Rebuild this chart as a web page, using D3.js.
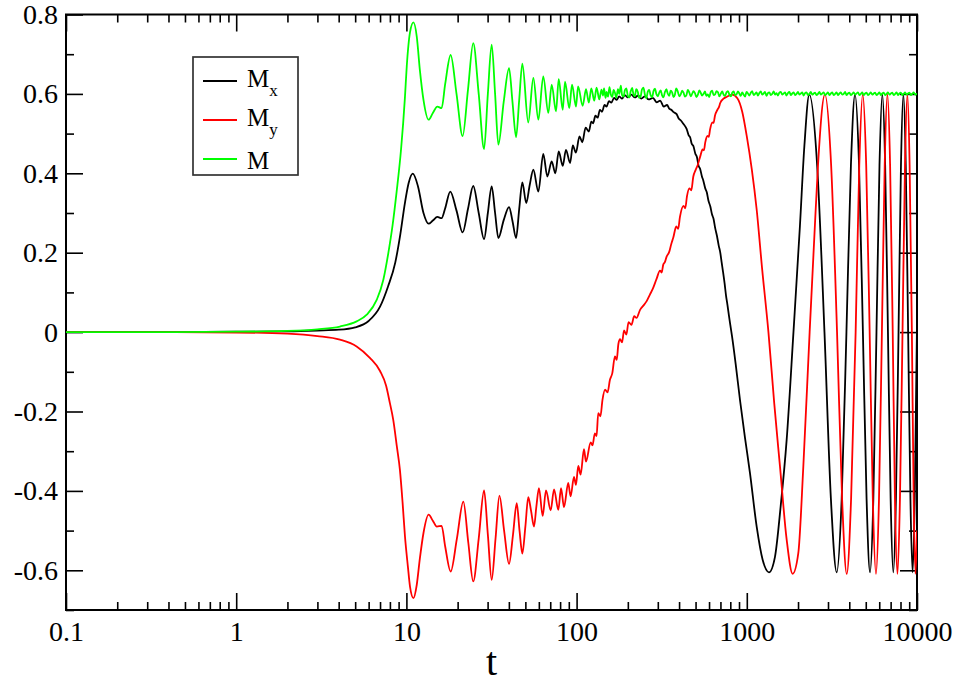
<!DOCTYPE html>
<html>
<head>
<meta charset="utf-8">
<script src="https://cdn.jsdelivr.net/npm/d3@7"></script>
<style>
    body { margin: 0; background: #fff; }
</style>
</head>
<body>
<div id="chart"></div>
<script>
// tick values
var xTicks = [0.1, 1, 10, 100, 1000, 10000];
var yTicks = [-0.6, -0.4, -0.2, 0, 0.2, 0.4, 0.6, 0.8];
var yMinorTicks = [-0.7, -0.5, -0.3, -0.1, 0.1, 0.3, 0.5, 0.7];

// legend: [symbol, subscript]
var legendLabels = [["M", "x"], ["M", "y"], ["M", ""]];
var seriesColors = ["#000000", "#ff0000", "#00ff00"];

var serif = "'Liberation Serif', Tinos, 'Times New Roman', Times, 'DejaVu Serif', serif";

// M_x (t, value)
var mxData = [
    [0.1,0],[0.3,0],[1,0.001],[2,0.002],[3,0.004],[4,0.006],[5,0.012],[6,0.028],[7,0.064],
    [7.8,0.115],[8.6,0.175],[9.2,0.245],[9.8,0.325],[10.3,0.375],[10.9,0.399],[11.7,0.367],
    [12.6,0.300],[13.5,0.273],[14.3,0.281],[15.2,0.290],[16.1,0.287],[16.9,0.312],[18.1,0.354],
    [19.7,0.306],[21.4,0.251],[23.0,0.310],[24.7,0.368],[26.6,0.300],[28.6,0.234],[30.1,0.300],
    [31.7,0.367],[33.2,0.300],[34.7,0.237],[37.3,0.282],[40.1,0.315],[42.0,0.280],[44.1,0.237],
    [46.0,0.310],[48.0,0.377],[50.6,0.325],[53.0,0.370],[55.7,0.409],[59.6,0.354],[63.7,0.449],
    [67.3,0.392],[71.4,0.430],[75.0,0.400],[78.5,0.455],[82.9,0.419],[86.6,0.459],[91.6,0.426],
    [95,0.470],[99,0.452],[104,0.493],[108,0.478],[113,0.515],[118,0.505],[122,0.530],[125,0.526],
    [129,0.545],[133,0.540],[137,0.560],[141,0.555],[146,0.572],[150,0.568],[155,0.582],[160,0.578],
    [166,0.590],[172,0.585],[178,0.594],[185,0.588],[192,0.597],[200,0.591],[210,0.598],[220,0.591],
    [230,0.596],[240,0.588],[252,0.594],[265,0.586],[281,0.590],[295,0.579],[310,0.583],[325,0.568],
    [340,0.572],[350,0.563],[360,0.560],[372,0.554],[387,0.549],[398,0.538],[410,0.533],[425,0.524],
    [443,0.512],[455,0.496],[465,0.490],[475,0.474],[485,0.469],[498,0.450],[510,0.440],[520,0.420],
    [532,0.411],[545,0.392],[555,0.382],[570,0.362],[582,0.352],[596,0.330],[610,0.317],[625,0.296],
    [638,0.285],[652,0.262],[668,0.242],[684,0.218],[698,0.201],[712,0.175],[725,0.152],[740,0.124],
    [755,0.092],[770,0.068],[785,0.042],[800,0.018],[819,-0.011],[860,-0.080],[912,-0.171],[975,-0.265],
    [1044,-0.355],[1143,-0.490],[1240,-0.574],[1350,-0.605],[1464,-0.566],[1581,-0.439],[1715,-0.271],
    [1880,0.000],[2051,0.266],[2180,0.470],[2328,0.598],[2590,0.420],[2860,0.000],[3120,-0.420],
    [3375,-0.605],[3610,-0.420],[3850,0.000],[4090,0.420],[4323,0.598],[4565,0.420],[4810,0.000],
    [5055,-0.420],[5297,-0.605],[5540,-0.420],[5780,0.000],[6020,0.420],[6255,0.598],[6500,0.420],
    [6750,0.000],[7000,-0.420],[7256,-0.605],[7520,-0.420],[7790,0.000],[8050,0.420],[8319,0.598],
    [8590,0.420],[8870,0.000],[9150,-0.420],[9420,-0.605],[9700,-0.420],[10000,0.020]
];

// M_y (t, value)
var myData = [
    [0.1,0],[0.3,0],[1,-0.001],[2,-0.004],[3,-0.010],[4.07,-0.019],[5.1,-0.036],[6.1,-0.065],
    [7.0,-0.098],[7.6,-0.135],[8.0,-0.179],[8.37,-0.221],[8.8,-0.290],[9.16,-0.347],[9.5,-0.430],
    [9.81,-0.515],[10.2,-0.590],[10.5,-0.641],[11.0,-0.670],[11.5,-0.637],[12.0,-0.570],[12.6,-0.506],
    [13.5,-0.460],[14.3,-0.475],[15.1,-0.490],[16.1,-0.488],[16.9,-0.540],[18.2,-0.603],[19.8,-0.520],
    [21.6,-0.427],[23.1,-0.530],[24.7,-0.628],[26.6,-0.520],[28.6,-0.399],[30.1,-0.510],[31.7,-0.624],
    [33.4,-0.520],[35.2,-0.412],[37.5,-0.500],[40.1,-0.584],[42.3,-0.510],[44.5,-0.431],[46.2,-0.500],
    [48.0,-0.558],[50.0,-0.490],[52.0,-0.416],[54,-0.450],[56.2,-0.490],[58,-0.440],[60.1,-0.393],
    [63.2,-0.463],[66.1,-0.399],[70.4,-0.449],[73.7,-0.396],[78.1,-0.448],[81.0,-0.393],[84.3,-0.441],
    [89.3,-0.380],[92.2,-0.414],[96.5,-0.365],[99.1,-0.385],[102.3,-0.337],[105.6,-0.359],[110.5,-0.295],
    [113.5,-0.326],[121,-0.278],[124,-0.285],[128,-0.255],[131,-0.262],[134,-0.204],[138,-0.212],
    [142,-0.170],[147,-0.145],[152,-0.152],[157,-0.120],[162,-0.104],[168,-0.061],[172,-0.070],
    [176,-0.030],[180,-0.018],[185,-0.026],[190,0.004],[196,-0.006],[202,0.025],[210,0.018],
    [218,0.040],[225,0.036],[236,0.056],[246,0.066],[258,0.078],[270,0.095],[281,0.110],[295,0.134],
    [309,0.155],[316,0.150],[323,0.170],[330,0.176],[338,0.190],[350,0.202],[360,0.222],[370,0.238],
    [385,0.266],[395,0.260],[405,0.291],[425,0.318],[435,0.312],[445,0.342],[460,0.362],[472,0.357],
    [485,0.392],[500,0.408],[515,0.421],[532,0.442],[550,0.460],[560,0.458],[570,0.478],[588,0.494],
    [598,0.492],[608,0.510],[628,0.528],[638,0.527],[650,0.545],[672,0.560],[685,0.566],[698,0.577],
    [730,0.588],[764,0.593],[819,0.598],[880,0.589],[940,0.555],
    [1000,0.493],[1070,0.410],[1142,0.310],[1230,0.160],[1340,0.000],[1450,-0.180],[1567,-0.339],
    [1715,-0.523],[1859,-0.609],[2007,-0.557],[2148,-0.339],[2340,0.000],[2500,0.250],[2620,0.420],
    [2877,0.598],[3130,0.420],[3390,0.000],[3630,-0.420],[3865,-0.609],[4100,-0.420],[4360,0.000],
    [4580,0.420],[4797,0.598],[5030,0.420],[5270,0.000],[5500,-0.420],[5741,-0.609],[5980,-0.420],
    [6220,0.000],[6460,0.420],[6698,0.598],[6950,0.420],[7200,0.000],[7420,-0.420],[7680,-0.609],
    [7940,-0.420],[8220,0.000],[8500,0.420],[8779,0.598],[9050,0.420],[9330,0.000],[9560,-0.420],
    [9800,-0.609],[10000,-0.500]
];

// M (t, value)
var mData = [
    [0.1,0],[0.3,0],[1,0.001],[2,0.003],[3,0.007],[4.07,0.014],[5.1,0.027],[5.85,0.044],[6.69,0.081],
    [7.32,0.132],[7.83,0.199],[8.3,0.270],[8.77,0.355],[9.3,0.460],[9.8,0.590],[10.05,0.670],
    [10.5,0.755],[11.0,0.780],[11.5,0.745],[12.0,0.660],[12.6,0.585],[13.5,0.535],[14.3,0.552],
    [15.2,0.568],[16.1,0.564],[16.9,0.625],[18.2,0.698],[19.7,0.600],[21.4,0.494],[23.0,0.610],
    [24.7,0.728],[26.6,0.600],[28.6,0.461],[30.1,0.600],[31.7,0.724],[33.2,0.600],[34.7,0.472],
    [37.3,0.580],[40.1,0.665],[42.0,0.580],[44.1,0.491],[46.0,0.585],[48.0,0.676],[52.0,0.528],
    [55.7,0.640],[59.6,0.535],[63.7,0.644],[68.2,0.552],[71.4,0.623],[75.7,0.556],[78.5,0.637],
    [82.9,0.560],[85.5,0.631],[90.6,0.564],[94.0,0.623],[99.2,0.568],[102,0.619],[108.6,0.570],
    [113.6,0.612],[118,0.578],[122,0.614],[127,0.583],[131,0.616],[136,0.586],[140,0.611],
    [143,0.596],[145,0.614],[148,0.590],[150,0.605],[153,0.593],[156,0.617],[159,0.598],[162,0.592],
    [165,0.610],[168,0.603],[171,0.590],[175,0.612],[178,0.600],[182,0.621],[185,0.597],[189,0.593],
    [192,0.609],[196,0.614],[200,0.595],[204,0.591],[208,0.607],[212,0.615],[216,0.598],[220,0.594],
    [224,0.612],[229,0.605],[233,0.590],[238,0.594],[242,0.611],[247,0.616],[252,0.598],[257,0.589],
    [262,0.606],[267,0.610],[272,0.597],[278,0.592],[283,0.607],[289,0.613],[294,0.600],[300,0.594],
    [306,0.603],[312,0.609],[318,0.596],[324,0.591],[330,0.604],[337,0.612],[343,0.601],[350,0.595],
    [357,0.608],[364,0.604],[371,0.592],[378,0.598],[385,0.614],[393,0.606],[401,0.594],[409,0.599],
    [417,0.608],[425,0.603],[433,0.593],[442,0.597],[450,0.610],[459,0.604],[468,0.594],[477,0.600],
    [486,0.607],[496,0.602],[506,0.592],[516,0.598],[526,0.609],[536,0.603],[546,0.596],[557,0.600],
    [568,0.606],[579,0.595],[590,0.599],[602,0.592],[614,0.605],[626,0.608],[638,0.597],[651,0.599],
    [664,0.607],[677,0.604],[690,0.594],[703,0.600],[717,0.606],[731,0.598],[745,0.595],[760,0.604],
    [775,0.607],[790,0.598],[806,0.594],[821,0.603],[837,0.606],[853,0.597],[870,0.599],[887,0.606],
    [904,0.601],[922,0.595],[940,0.604],[958,0.598],[977,0.593],[996,0.605],[1016,0.601],[1035,0.596],
    [1056,0.603],[1076,0.607],[1097,0.597],[1118,0.600],[1140,0.604],[1162,0.596],[1185,0.602],
    [1208,0.606],[1232,0.598],[1256,0.601],[1280,0.605],[1305,0.595],[1331,0.602],[1357,0.604],
    [1383,0.597],[1410,0.600],[1438,0.606],[1466,0.598],[1495,0.602],[1524,0.596],[1554,0.603],
    [1584,0.605],[1615,0.598],[1646,0.601],[1678,0.604],[1711,0.596],[1745,0.602],[1779,0.605],
    [1814,0.597],[1849,0.601],[1885,0.604],[1922,0.597],[1960,0.600],[1998,0.605],[2037,0.598],
    [2076,0.601],[2117,0.604],[2158,0.596],[2200,0.602],[2243,0.604],[2287,0.597],[2332,0.600],
    [2377,0.605],[2424,0.598],[2471,0.601],[2519,0.603],[2568,0.597],[2619,0.600],[2670,0.605],
    [2722,0.598],[2775,0.601],[2829,0.604],[2884,0.597],[2941,0.600],[2998,0.604],[3057,0.597],
    [3116,0.601],[3177,0.604],[3239,0.597],[3302,0.600],[3367,0.604],[3433,0.597],[3500,0.601],
    [3568,0.604],[3638,0.598],[3709,0.600],[3781,0.605],[3855,0.597],[3930,0.601],[4007,0.603],
    [4085,0.597],[4165,0.600],[4246,0.604],[4329,0.598],[4414,0.601],[4500,0.604],[4588,0.597],
    [4677,0.600],[4769,0.604],[4862,0.597],[4957,0.601],[5053,0.603],[5152,0.597],[5253,0.600],
    [5355,0.604],[5460,0.598],[5566,0.601],[5675,0.603],[5786,0.597],[5899,0.600],[6014,0.604],
    [6131,0.597],[6251,0.601],[6373,0.603],[6498,0.597],[6624,0.600],[6754,0.604],[6886,0.598],
    [7020,0.601],[7157,0.603],[7297,0.597],[7439,0.600],[7585,0.604],[7733,0.597],[7884,0.601],
    [8038,0.603],[8195,0.597],[8355,0.600],[8518,0.604],[8684,0.598],[8854,0.601],[9027,0.603],
    [9203,0.597],[9383,0.600],[9566,0.604],[9753,0.598],[10000,0.601]
];

var margin = {top: 14.5, right: 46, bottom: 74, left: 66},
        width = 963 - margin.left - margin.right,
        height = 684 - margin.top - margin.bottom;

var x = d3.scaleLog()
        .domain([0.1, 10000])
        .range([0, width]);

var y = d3.scaleLinear()
        .domain([-0.7, 0.8])
        .range([height, 0]);

var xMinor = x.ticks().filter(function(d) { return xTicks.indexOf(d) < 0; });

var fmtX = d3.format("~g");
var fmtY = function(d) { return String(+d.toFixed(1)); };

var svg = d3.select("#chart").append("svg")
        .attr("width", 963)
        .attr("height", 684)
        .append("g")
        .attr("transform", "translate(" + margin.left + "," + margin.top + ")");

svg.append("clipPath")
        .attr("id", "plot-clip")
        .append("rect")
        .attr("width", width)
        .attr("height", height);

// axes: major ticks 17px inward, minor 8px
function addAxis(axis, transform, labels) {
    var g = svg.append("g")
            .attr("class", "axis")
            .attr("transform", transform)
            .call(axis);
    g.select(".domain").remove();
    g.selectAll(".tick line").attr("stroke", "#000").attr("stroke-width", 1.6);
    if (labels) {
        g.selectAll(".tick text")
                .style("font-family", serif)
                .style("font-size", "28px")
                .attr("fill", "#000");
    }
    return g;
}

addAxis(d3.axisBottom(x).tickValues(xTicks).tickFormat(fmtX)
        .tickSizeInner(-17).tickSizeOuter(0).tickPadding(11), "translate(0," + height + ")", true);
addAxis(d3.axisBottom(x).tickValues(xMinor).tickFormat("")
        .tickSizeInner(-8).tickSizeOuter(0), "translate(0," + height + ")");
addAxis(d3.axisTop(x).tickValues(xTicks).tickFormat("")
        .tickSizeInner(-17).tickSizeOuter(0), "translate(0,0)");
addAxis(d3.axisTop(x).tickValues(xMinor).tickFormat("")
        .tickSizeInner(-8).tickSizeOuter(0), "translate(0,0)");

addAxis(d3.axisLeft(y).tickValues(yTicks).tickFormat(fmtY)
        .tickSizeInner(-17).tickSizeOuter(0).tickPadding(8), "translate(0,0)", true);
addAxis(d3.axisLeft(y).tickValues(yMinorTicks).tickFormat("")
        .tickSizeInner(-8).tickSizeOuter(0), "translate(0,0)");
addAxis(d3.axisRight(y).tickValues(yTicks).tickFormat("")
        .tickSizeInner(-17).tickSizeOuter(0), "translate(" + width + ",0)");
addAxis(d3.axisRight(y).tickValues(yMinorTicks).tickFormat("")
        .tickSizeInner(-8).tickSizeOuter(0), "translate(" + width + ",0)");

svg.append("rect")
        .attr("class", "frame")
        .attr("width", width)
        .attr("height", height)
        .attr("fill", "none")
        .attr("stroke", "#000")
        .attr("stroke-width", 2);

svg.append("text")
        .attr("class", "x label")
        .attr("x", width / 2)
        .attr("y", height + 65)
        .attr("text-anchor", "middle")
        .style("font-family", serif)
        .style("font-size", "40px")
        .text("t");

// curves
var line = d3.line()
        .x(function(d) { return x(d[0]); })
        .y(function(d) { return y(d[1]); })
        .curve(d3.curveMonotoneX);

var plot = svg.append("g").attr("clip-path", "url(#plot-clip)");

[mxData, myData, mData].forEach(function(data, i) {
    plot.append("path")
            .datum(data)
            .attr("fill", "none")
            .attr("stroke", seriesColors[i])
            .attr("stroke-width", 1.8)
            .attr("stroke-linejoin", "round")
            .attr("d", line);
});

// legend
var legend = svg.append("g")
        .attr("class", "legend")
        .attr("transform", "translate(127,42.5)");

legend.append("rect")
        .attr("width", 105)
        .attr("height", 118)
        .attr("fill", "#fff")
        .attr("stroke", "#333")
        .attr("stroke-width", 1.7);

legendLabels.forEach(function(lab, i) {
    var row = legend.append("g").attr("transform", "translate(0," + (24 + i * 39) + ")");
    row.append("line")
            .attr("x1", 10).attr("x2", 44)
            .attr("y1", 0).attr("y2", 0)
            .attr("stroke", seriesColors[i])
            .attr("stroke-width", 1.8);
    var t = row.append("text")
            .attr("x", 54)
            .attr("y", 6 + (i === 2 ? 4 : 0))
            .style("font-family", serif)
            .style("font-size", "25px")
            .text(lab[0]);
    if (lab[1]) {
        t.append("tspan")
                .attr("dy", 9)
                .style("font-size", "17px")
                .text(lab[1]);
    }
});
</script>
</body>
</html>
